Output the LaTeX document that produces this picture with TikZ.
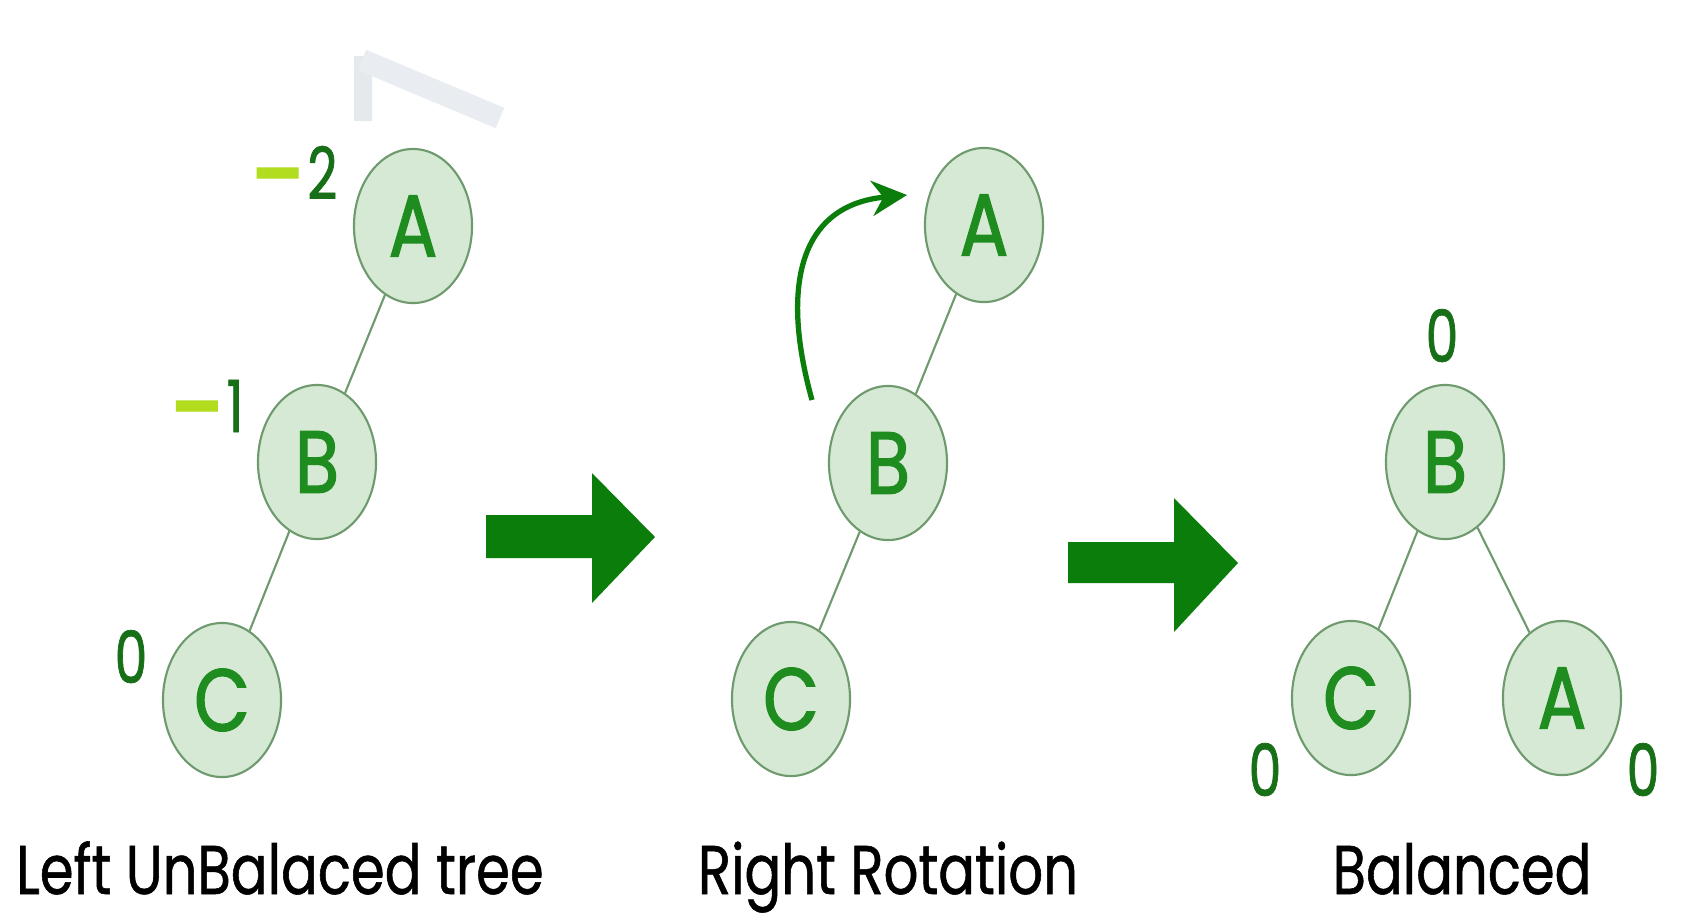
\documentclass[tikz,border=0pt]{standalone}
\usepackage{fontspec}
\usepackage{graphicx}
\setmainfont{Poppins}[FakeStretch=0.79, FakeBold=0.8]
\newfontfamily\letterfont{Poppins}[FakeStretch=0.82, FakeBold=1.6]
\newfontfamily\factorfont{Poppins}[FakeStretch=0.72, FakeBold=1.0]
\usepackage{xcolor}
\usetikzlibrary{arrows.meta,positioning,shapes.geometric}
\definecolor{nodefill}{HTML}{D6E9D4}
\definecolor{nodeline}{HTML}{6E9A6E}
\definecolor{letter}{HTML}{1E8C1E}
\definecolor{factor}{HTML}{176F17}
\definecolor{minus}{HTML}{B2DC1E}
\definecolor{accent}{HTML}{0B7D0B}
\definecolor{watermark}{HTML}{E4E9ED}

\begin{document}
\begin{tikzpicture}[
  x=0.01cm, y=-0.01cm,
  treenode/.style={ellipse, draw=nodeline, line width=0.6pt, fill=nodefill, minimum width=1.18cm, minimum height=1.54cm, inner sep=0pt, text=letter, font=\letterfont\fontsize{25}{25}\selectfont},
  link/.style={draw=nodeline, line width=0.6pt},
  balance/.style={text=factor, inner sep=0pt, font=\factorfont\fontsize{20.5}{20.5}\selectfont},
  caption/.style={anchor=base, inner sep=0pt, font=\fontsize{19.6}{19.6}\selectfont},
  rotarrow/.style={-{Stealth[length=10pt,width=10pt]}, line width=1.5pt, draw=accent},
  bigarrow/.style={fill=accent}
]
\useasboundingbox (0,0) rectangle (1681,914);
\fill[white] (0,0) rectangle (1681,914);

% faint watermark behind the first tree
\fill[watermark] (354,56) -- (368,56) -- (372,66) -- (372,121) -- (354,121) -- cycle;
\draw[watermark!80, line width=2.2mm] (362,60) -- (500,118);

\node[treenode] (a1) at (413,226) {A};
\node[treenode] (b1) at (317,462) {B};
\node[treenode] (c1) at (222,700) {C};

\node[treenode] (a2) at (984,225) {A};
\node[treenode] (b2) at (888,463) {B};
\node[treenode] (c2) at (791,699) {C};

\node[treenode] (b3) at (1445,462) {B};
\node[treenode] (c3) at (1351,698) {C};
\node[treenode] (a3) at (1562,698) {A};

\draw[link] (a1)--(b1);
\draw[link] (b1)--(c1);
\draw[link] (a2)--(b2);
\draw[link] (b2)--(c2);
\draw[link] (b3)--(c3);
\draw[link] (b3)--(a3);

\node[balance, anchor=base east] (fa1) at (338,199) {\textcolor{minus}{\raisebox{-0.3em}{\scalebox{1.5}[1.8]{–}}}\kern1pt2};
\node[balance, anchor=base east] (fb1) at (244,432) {\textcolor{minus}{\raisebox{-0.3em}{\scalebox{1.5}[1.8]{–}}}\kern1pt1};
\node[balance, anchor=base] (fc1) at (131,683) {0};
\node[balance, anchor=base] (fb3) at (1442,362) {0};
\node[balance, anchor=base] (fc3) at (1265,796) {0};
\node[balance, anchor=base] (fa3) at (1643,796) {0};

\coordinate (rotstart) at (812,400);
\coordinate (rottip) at (907,195);
\draw[rotarrow] (rotstart) .. controls (780,285) and (800,205) .. (rottip);

\fill[bigarrow] (486,515) -- (592,515) -- (592,473) -- (655,537) -- (592,603) -- (592,558) -- (486,558) -- cycle;
\fill[bigarrow] (1068,542) -- (1174,542) -- (1174,498) -- (1238,563) -- (1174,632) -- (1174,583) -- (1068,583) -- cycle;

\node[caption] (cap1) at (280,894) {Left UnBalaced tree};
\node[caption] (cap2) at (888,894) {Right Rotation};
\node[caption] (cap3) at (1462,894) {Balanced};
\end{tikzpicture}
\end{document}
